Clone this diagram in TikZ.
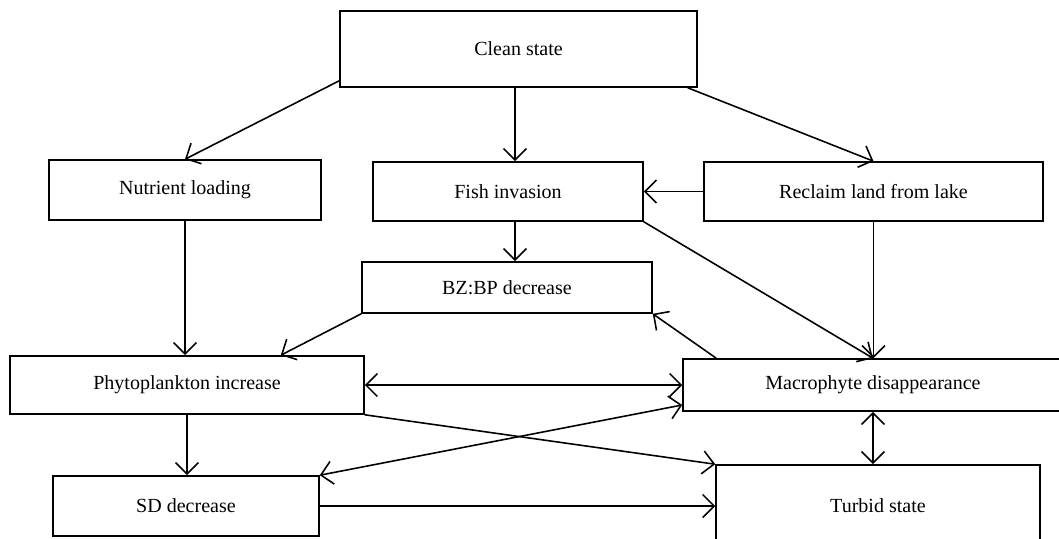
\documentclass[tikz,border=0pt]{standalone}
\usepackage{fontspec}
\setmainfont{Liberation Serif}
\usetikzlibrary{arrows.meta}

\begin{document}
\begin{tikzpicture}[x=0.02cm, y=-0.02cm,
    box/.style={rectangle, draw, line width=0.9pt, inner sep=0pt, font=\fontsize{11.4}{13}\selectfont},
    arr/.style={line width=0.9pt, -{Straight Barb[length=2.3mm, width=4.6mm, line width=0.9pt]}},
    both/.style={line width=0.9pt, {Straight Barb[length=2.3mm, width=4.6mm, line width=0.9pt]}-{Straight Barb[length=2.3mm, width=4.6mm, line width=0.9pt]}}]
    \useasboundingbox (0,0) rectangle (1059,538);

    % Draw nodes
    \node[box, minimum width=7.14cm, minimum height=1.52cm] (clean) at (518.5,49) {Clean state};
    \node[box, minimum width=5.44cm, minimum height=1.2cm] (nutrient) at (185,190) {Nutrient loading};
    \node[box, minimum width=5.4cm, minimum height=1.18cm] (fish) at (508,191.5) {Fish invasion};
    \node[box, minimum width=6.78cm, minimum height=1.18cm] (reclaim) at (873.5,191.5) {Reclaim land from lake};
    \node[box, minimum width=5.8cm, minimum height=1.02cm] (bzbp) at (507,287.5) {BZ:BP decrease};
    \node[box, minimum width=7.08cm, minimum height=1.16cm] (phyto) at (187,385) {Phytoplankton increase};
    \node[box, minimum width=7.6cm, minimum height=1.04cm] (macro) at (873,385) {Macrophyte disappearance};
    \node[box, minimum width=5.32cm, minimum height=1.2cm] (sd) at (186,506) {SD decrease};
    \node[box, minimum width=6.48cm, minimum height=1.64cm] (turbid) at (878,506) {Turbid state};

    % Draw connections
    \draw[arr] ([yshift=0.14cm]clean.south west) -- (nutrient.north);
    \draw[arr] ([xshift=0.14cm]fish.north |- clean.south) -- ([xshift=0.14cm]fish.north);
    \draw[arr] ([xshift=-0.2cm]clean.south east) -- (reclaim.north);
    \draw[arr] (reclaim.west) -- (fish.east);
    \draw[arr] (nutrient.south) -- (nutrient.south |- phyto.north);
    \draw[arr] ([xshift=0.14cm]fish.south) -- ([xshift=0.14cm]fish.south |- bzbp.north);
    \draw[arr] (bzbp.south west) -- ([xshift=-1.68cm]phyto.north east);
    \draw[arr] (fish.south east) -- (macro.north);
    \draw[arr] (reclaim.south) -- (reclaim.south |- macro.north);
    \draw[arr] ([xshift=0.68cm]macro.north west) -- (bzbp.south east);
    \draw[both] (phyto.east) -- (macro.west);
    \draw[arr] (phyto.south) -- (phyto.south |- sd.north);
    \draw[arr] (phyto.south east) -- (turbid.north west);
    \draw[both] ([yshift=-0.4cm]macro.west) -- (sd.north east);
    \draw[both] (macro.south) -- (macro.south |- turbid.north);
    \draw[arr] (sd.east) -- (turbid.west);
\end{tikzpicture}
\end{document}
